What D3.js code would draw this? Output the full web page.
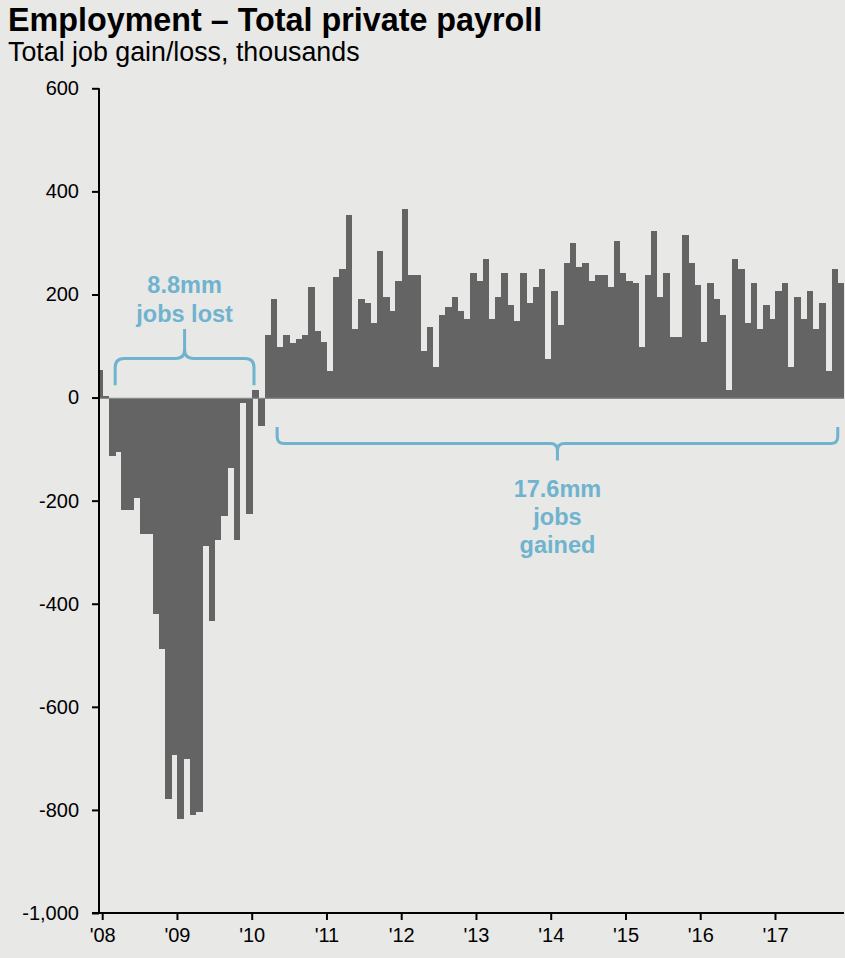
<!DOCTYPE html>
<html>
<head>
<meta charset="utf-8">
<script src="https://cdn.jsdelivr.net/npm/d3@7"></script>
<style>
  html, body { margin: 0; padding: 0; background: #e8e8e6; }
  svg { display: block; font-family: "Liberation Sans", Arial, Helvetica, sans-serif; }
</style>
</head>
<body>
<svg id="chart" width="845" height="958"></svg>
<script>
// ---- Data (thousands, monthly change in total private payrolls) ----
const jobs2007 = [54];                       // Dec only (partly visible)
const jobs2008 = [4, -113, -106, -218, -218, -195, -264, -264, -419, -487, -778, -693];
const jobs2009 = [-817, -701, -809, -805, -288, -433, -276, -229, -137, -276, -11, -226];
const jobs2010 = [15, -55, 122, 191, 98, 122, 106, 114, 122, 215, 129, 108];
const jobs2011 = [52, 234, 250, 354, 133, 191, 184, 145, 284, 195, 168, 226];
const jobs2012 = [366, 238, 238, 90, 137, 59, 160, 176, 195, 168, 153, 242];
const jobs2013 = [226, 269, 153, 195, 242, 180, 149, 242, 184, 215, 250, 75];
const jobs2014 = [207, 141, 261, 300, 253, 261, 226, 238, 238, 215, 304, 242];
const jobs2015 = [226, 222, 98, 238, 323, 195, 242, 118, 118, 316, 261, 218];
const jobs2016 = [108, 222, 191, 160, 15, 269, 250, 145, 222, 133, 180, 153];
const jobs2017 = [207, 222, 59, 195, 153, 207, 133, 184, 52, 250, 222];

const yearSeries = [jobs2007, jobs2008, jobs2009, jobs2010, jobs2011, jobs2012,
                    jobs2013, jobs2014, jobs2015, jobs2016, jobs2017];
const firstMonth = new Date(2007, 11, 1);

const xTickYears = [2008, 2009, 2010, 2011, 2012, 2013, 2014, 2015, 2016, 2017];
const xTickLabels = ["'08", "'09", "'10", "'11", "'12", "'13", "'14", "'15", "'16", "'17"];
const yTickValues = [600, 400, 200, 0, -200, -400, -600, -800, -1000];
const yTickLabels = ["600", "400", "200", "0", "-200", "-400", "-600", "-800", "-1,000"];

const titleText = "Employment \u2013 Total private payroll";
const subtitleText = "Total job gain/loss, thousands";
const lostLines = ["8.8mm", "jobs lost"];
const gainedLines = ["17.6mm", "jobs", "gained"];

// ---- Build table ----
const allValues = yearSeries.flat();
const months = d3.timeMonth.range(firstMonth, d3.timeMonth.offset(firstMonth, allValues.length));
const keyOf = d => d3.timeFormat("%Y-%m")(d);
const data = months.map((m, i) => ({ key: keyOf(m), date: m, value: allValues[i] }));

// ---- Styles ----
const BG = "#e8e8e6", BAR = "#646464", BLUE = "#6fb3ce";

const svg = d3.select("#chart");
svg.append("rect").attr("width", 845).attr("height", 958).attr("fill", BG);

const axisX = 99, plotRight = 844;
const bw = (plotRight - 102.7) / (allValues.length - 1);
const x = d3.scaleBand()
  .domain(data.map(d => d.key))
  .range([102.7 - bw, plotRight])
  .paddingInner(0).paddingOuter(0);
const y = d3.scaleLinear().domain([-1000, 600]).range([913, 88.3]);

// clip
svg.append("clipPath").attr("id", "plotclip")
  .append("rect").attr("x", axisX + 1).attr("y", 0).attr("width", 845 - axisX).attr("height", 958);

// bars
svg.append("g").attr("clip-path", "url(#plotclip)")
  .selectAll("rect").data(data).join("rect")
  .attr("x", d => x(d.key))
  .attr("width", x.bandwidth() + 0.35)
  .attr("y", d => y(Math.max(0, d.value)))
  .attr("height", d => Math.abs(y(d.value) - y(0)))
  .attr("fill", BAR)
  .attr("shape-rendering", "crispEdges");

// zero line
svg.append("line")
  .attr("x1", axisX).attr("x2", plotRight)
  .attr("y1", y(0) + 0.8).attr("y2", y(0) + 0.8)
  .attr("stroke", "#8a8a8a").attr("stroke-width", 1.2);

// y axis
const yAxis = d3.axisLeft(y).tickValues(yTickValues)
  .tickFormat((d, i) => yTickLabels[i]).tickSize(7).tickPadding(13);
const gy = svg.append("g").attr("transform", `translate(${axisX},0)`).call(yAxis);
gy.select(".domain").attr("stroke", "#000").attr("stroke-width", 2)
  .attr("d", `M0,${y(600)}V${y(-1000)}`);
gy.selectAll(".tick line").attr("stroke", "#000").attr("stroke-width", 2);
gy.selectAll(".tick text").attr("font-size", 20).attr("fill", "#000")
  .attr("font-family", "'Liberation Sans', Arial, sans-serif");

// x axis
const tickKeys = xTickYears.map(yr => keyOf(new Date(yr, 0, 1)));
const xAxis = d3.axisBottom(x).tickValues(tickKeys)
  .tickFormat((d, i) => xTickLabels[i]).tickSize(7).tickPadding(8);
const gx = svg.append("g").attr("transform", `translate(0,${y(-1000)})`).call(xAxis);
gx.selectAll(".tick").attr("transform", d => `translate(${x(d)},0)`);
gx.select(".domain").attr("stroke", "#000").attr("stroke-width", 2)
  .attr("d", `M${axisX - 7},0H${plotRight}`);
gx.selectAll(".tick line").attr("stroke", "#000").attr("stroke-width", 2);
gx.selectAll(".tick text").attr("font-size", 20).attr("fill", "#000")
  .attr("font-family", "'Liberation Sans', Arial, sans-serif");

// title & subtitle
svg.append("text").attr("x", 8).attr("y", 31)
  .attr("font-size", 32.3).attr("font-weight", "bold").attr("fill", "#000").text(titleText);
svg.append("text").attr("x", 8).attr("y", 61)
  .attr("font-size", 26.8).attr("fill", "#000").text(subtitleText);

// ---- Annotations ----
const r = 9;
function braceDown(xL, xR, yTip, yBar, yPeak) { // tips at bottom, peak upward
  const xc = (xL + xR) / 2;
  return `M${xL},${yTip} L${xL},${yBar + r} Q${xL},${yBar} ${xL + r},${yBar} L${xc - r},${yBar} Q${xc},${yBar} ${xc},${yBar - r} L${xc},${yPeak}` +
         ` M${xc},${yBar - r} Q${xc},${yBar} ${xc + r},${yBar} L${xR - r},${yBar} Q${xR},${yBar} ${xR},${yBar + r} L${xR},${yTip}`;
}
function braceUp(xL, xR, yTip, yBar, yPoint) { // tips at top, point downward
  const xc = (xL + xR) / 2;
  const rr = 7;
  return `M${xL},${yTip} L${xL},${yBar - rr} Q${xL},${yBar} ${xL + rr},${yBar} L${xc - rr},${yBar} Q${xc},${yBar} ${xc},${yBar + rr} L${xc},${yPoint}` +
         ` M${xc},${yBar + rr} Q${xc},${yBar} ${xc + rr},${yBar} L${xR - rr},${yBar} Q${xR},${yBar} ${xR},${yBar - rr} L${xR},${yTip}`;
}
const lostL = x("2008-03"), lostR = x("2010-01") + 1.8;
svg.append("path").attr("d", braceDown(lostL, lostR, y(24), y(76), y(133)))
  .attr("fill", "none").attr("stroke", BLUE).attr("stroke-width", 3);
const gainL = x("2010-05"), gainR = x("2017-11");
svg.append("path").attr("d", braceUp(gainL, gainR, y(-57), y(-89), y(-122)))
  .attr("fill", "none").attr("stroke", BLUE).attr("stroke-width", 3);

const lostC = (lostL + lostR) / 2;
svg.append("g").selectAll("text").data(lostLines).join("text")
  .attr("x", lostC).attr("y", (d, i) => 293 + i * 29)
  .attr("text-anchor", "middle").attr("font-size", 23.5).attr("font-weight", "bold")
  .attr("fill", BLUE).text(d => d);
const gainC = (gainL + gainR) / 2;
svg.append("g").selectAll("text").data(gainedLines).join("text")
  .attr("x", gainC).attr("y", (d, i) => 497 + i * 28)
  .attr("text-anchor", "middle").attr("font-size", 23.5).attr("font-weight", "bold")
  .attr("fill", BLUE).text(d => d);
</script>
</body>
</html>
